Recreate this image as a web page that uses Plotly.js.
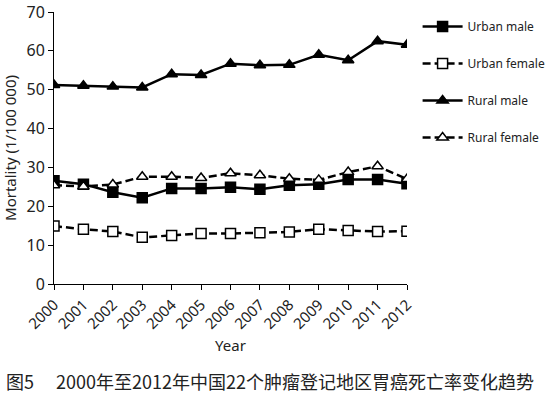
<!DOCTYPE html>
<html>
<head>
<meta charset="utf-8">
<script src="https://cdn.plot.ly/plotly-3.0.1.min.js"></script>
<style>html,body{margin:0;padding:0;background:#fff;}#chart{width:545px;height:397px;}</style>
</head>
<body>
<div id="chart"></div>
<script>
const years = ['2000','2001','2002','2003','2004','2005','2006','2007','2008','2009','2010','2011','2012'];
const urbanMale   = [26.6, 25.7, 23.6, 22.2, 24.6, 24.6, 24.9, 24.4, 25.4, 25.7, 26.9, 26.9, 25.8];
const urbanFemale = [14.9, 14.1, 13.5, 12.0, 12.5, 13.0, 13.0, 13.2, 13.4, 14.1, 13.8, 13.5, 13.6];
const ruralMale   = [51.2, 51.0, 50.8, 50.6, 54.0, 53.8, 56.7, 56.3, 56.4, 59.0, 57.6, 62.5, 61.6];
const ruralFemale = [25.4, 25.1, 25.6, 27.6, 27.6, 27.3, 28.5, 28.0, 27.1, 26.8, 28.8, 30.3, 27.0];
const seriesNames = ['Urban male', 'Urban female', 'Rural male', 'Rural female'];
const yTicks = [0, 10, 20, 30, 40, 50, 60, 70];
const caption = '图5\u3000 2000年至2012年中国22个肿瘤登记地区胃癌死亡率变化趋势';

const xIdx = years.map((_, i) => i);
function tr(name, y, dash, symbol, fill, group) {
  return {
    type: 'scatter', mode: 'lines+markers', name: name, x: xIdx, y: y,
    legendgroup: group,
    line: {color: '#000', width: 2.5, dash: dash},
    marker: {symbol: symbol, size: 10, color: fill, line: {color: '#000', width: 1.5}}
  };
}
const data = [
  tr(seriesNames[0], urbanMale, 'solid', 'square', '#000', 'a'),
  tr(seriesNames[1], urbanFemale, '8px,4px', 'square', '#fff', 'b'),
  tr(seriesNames[2], ruralMale, 'solid', 'triangle-up', '#000', 'c'),
  tr(seriesNames[3], ruralFemale, '8px,4px', 'triangle-up', '#fff', 'd')
];
const layout = {
  width: 545, height: 397,
  margin: {l: 54, r: 138, t: 12, b: 113, autoexpand: false},
  paper_bgcolor: '#fff', plot_bgcolor: '#fff',
  font: {family: 'Noto Sans, sans-serif', color: '#222'},
  showlegend: true,
  legend: {x: 1.03, y: 1.0, xanchor: 'left', yanchor: 'top', font: {size: 12, color: '#222'},
           tracegroupgap: 18, itemwidth: 40, bgcolor: 'rgba(0,0,0,0)'},
  xaxis: {
    range: [0, 12], tickmode: 'array', tickvals: xIdx, ticktext: years, tickangle: -45,
    showline: true, linecolor: '#000', linewidth: 1, ticks: 'outside', ticklen: 5, tickcolor: '#000',
    showgrid: false, zeroline: false, tickfont: {size: 15},
    title: {text: 'Year', font: {size: 15}, standoff: 8}
  },
  yaxis: {
    range: [0, 70], tickmode: 'array', tickvals: yTicks,
    showline: true, linecolor: '#000', linewidth: 1, ticks: 'outside', ticklen: 5, tickcolor: '#000',
    showgrid: false, zeroline: false, tickfont: {size: 16},
    title: {text: 'Mortality (1/100 000)', font: {size: 15}, standoff: 6}
  },
  annotations: [{
    text: caption, xref: 'paper', yref: 'paper', x: -0.142, y: -0.30, xanchor: 'left', yanchor: 'top',
    showarrow: false, font: {family: 'Noto Sans CJK SC, sans-serif', size: 18, color: '#222'}
  }]
};
Plotly.newPlot('chart', data, layout, {displayModeBar: false, staticPlot: true});
</script>
</body>
</html>
